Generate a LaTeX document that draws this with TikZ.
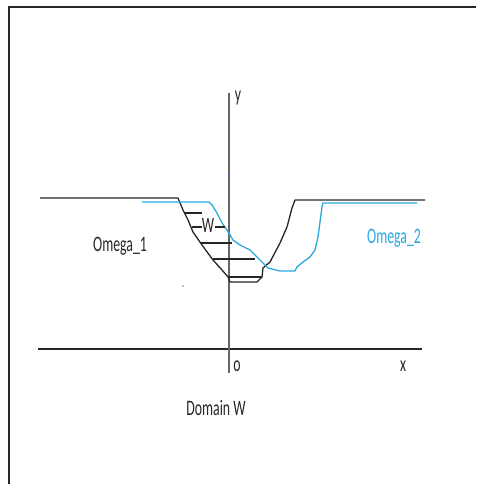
\documentclass[tikz,border=0pt]{standalone}
\usepackage{fontspec}
\setmainfont{Carlito}
\usepackage{graphicx}
\definecolor{riverblue}{RGB}{41,168,224}
\definecolor{frameg}{RGB}{40,40,40}
\newcommand{\tallt}[1]{\scalebox{1}[1.6]{\fontsize{13.8}{16}\selectfont #1}}
\tikzset{
  lbl/.style={inner sep=0pt, text=black!85},
  bank/.style={line width=1.3pt, black!85, line join=round},
  river/.style={line width=1.3pt, riverblue, line join=round},
  hatch/.style={line width=1.1pt, black!85},
}
\begin{document}
\begin{tikzpicture}[x=1pt,y=-1pt]
\useasboundingbox (0,0) rectangle (476,484);
% frame
\draw[line width=2pt, frameg] (9,484) -- (9,7) -- (476,7);
% axes
\draw[line width=1.6pt, black!85] (38,349) -- (422,349);
\draw[line width=1.2pt, black!60] (229,93) -- (229,373);
% black domain boundary
\draw[bank] (40,198) -- (178,198) -- (183,210) -- (188,220) -- (193,232) -- (202,245) -- (213,260) -- (222,270) -- (228,277) -- (230,282) -- (257,282) -- (262,277) -- (263,268) -- (270,262) -- (280,243) -- (287,227) -- (292,208) -- (295,200) -- (425,200);
% blue boundary
\draw[river] (142,202) -- (209,202) -- (212,205) -- (217,213) -- (222,223) -- (227,230) -- (233,240) -- (240,245) -- (250,250) -- (255,255) -- (260,260) -- (265,265) -- (268,268) -- (280,271) -- (295,271) -- (297,267) -- (303,262) -- (310,257) -- (315,250) -- (318,237) -- (320,222) -- (322,207) -- (323,203) -- (417,203);
% hatching
\draw[hatch] (185,213) -- (202,213);
\draw[hatch] (192,227) -- (202,227);
\draw[hatch] (215,227) -- (225,227);
\draw[hatch] (200,243) -- (232,243);
\draw[hatch] (213,259) -- (255,259);
\draw[hatch] (228,277) -- (262,277);
% small dots
\fill[riverblue] (183,286) circle (0.8);
\fill[blue!70] (229,175) circle (1);
% labels
\node[lbl] (w) at (208,225) {\tallt{W}};
\node[lbl] (ylab) at (238,98) {\tallt{y}};
\node[lbl] (olab) at (237,366) {\tallt{o}};
\node[lbl] (xlab) at (403,366) {\tallt{x}};
\node[lbl] (om1) at (120,246) {\tallt{Omega\_1}};
\node[lbl, text=riverblue] (om2) at (394,238) {\tallt{Omega\_2}};
\node[lbl] (dom) at (216,408) {\tallt{Domain W}};
\end{tikzpicture}
\end{document}
